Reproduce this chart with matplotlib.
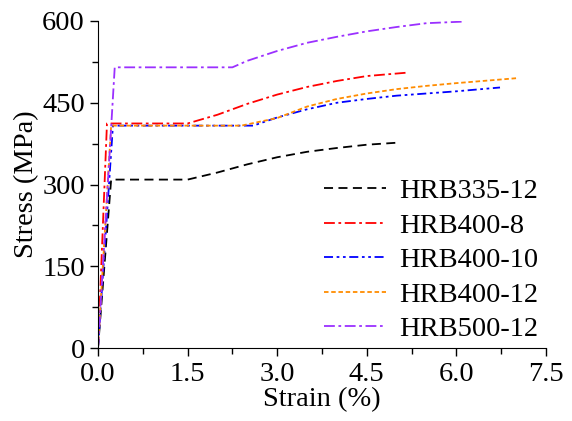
import matplotlib.pyplot as plt
import numpy as np

plt.rcParams["font.family"] = ["Liberation Serif", "DejaVu Serif"]
plt.rcParams["mathtext.fontset"] = "stix"

labels = ["HRB335-12", "HRB400-8", "HRB400-10", "HRB400-12", "HRB500-12"]
colors = ["black", "red", "blue", "darkorange", "#9b30ff"]

strain_335_12 = [0.0, 0.22, 1.5, 2.0, 2.5, 3.0, 3.5, 4.0, 4.5, 5.05]
stress_335_12 = [0, 309, 309, 322, 337, 350, 360, 367, 373, 377]

strain_400_8 = [0.0, 0.15, 1.5, 2.0, 2.5, 3.0, 3.5, 4.0, 4.5, 5.15]
stress_400_8 = [0, 412, 412, 428, 448, 465, 479, 490, 499, 505]

strain_400_10 = [0.0, 0.25, 2.6, 3.0, 3.5, 4.0, 4.5, 5.0, 5.5, 6.0, 6.73]
stress_400_10 = [0, 408, 408, 423, 438, 450, 457, 463, 467, 471, 478]

strain_400_12 = [0.0, 0.22, 2.4, 3.0, 3.5, 4.0, 4.5, 5.0, 5.5, 6.0, 7.0]
stress_400_12 = [0, 408, 408, 422, 443, 457, 467, 475, 481, 486, 495]

strain_500_12 = [0.0, 0.28, 2.25, 2.5, 3.0, 3.5, 4.0, 4.5, 5.0, 5.5, 6.14]
stress_500_12 = [0, 515, 515, 527, 545, 560, 571, 581, 589, 596, 599]

strains = [strain_335_12, strain_400_8, strain_400_10, strain_400_12, strain_500_12]
stresses = [stress_335_12, stress_400_8, stress_400_10, stress_400_12, stress_500_12]
styles = [
    (0, (5, 3)),
    (0, (6, 2, 1.5, 2)),
    (0, (5, 2, 1.5, 2, 1.5, 2)),
    (0, (2.5, 1.5)),
    (0, (6, 2, 1.5, 2)),
]

fig = plt.figure(figsize=(5.72, 4.21), dpi=100)
ax = fig.add_axes([98 / 572, 1 - 348 / 421, 448 / 572, 327 / 421])

for x, y, c, ls, lab in zip(strains, stresses, colors, styles, labels):
    ax.plot(x, y, color=c, linestyle=ls, linewidth=1.3, label=lab)

ax.set_xlim(0, 7.5)
ax.set_ylim(0, 600)
ax.set_xticks(np.arange(0, 7.6, 1.5))
ax.set_xticks(np.arange(0.75, 7.5, 1.5), minor=True)
ax.set_yticks(np.arange(0, 601, 150))
ax.set_yticks(np.arange(75, 600, 150), minor=True)
ax.xaxis.set_major_formatter(plt.FuncFormatter(lambda v, p: f"{v:.1f}"))
ax.spines["top"].set_visible(False)
ax.spines["right"].set_visible(False)
ax.tick_params(which="major", direction="out", length=6, width=1, labelsize=20.5)
ax.tick_params(which="minor", direction="out", length=4, width=1)
ax.tick_params(axis="x", pad=4)
ax.set_xlabel("Strain (%)", fontsize=20.5, labelpad=0)
ax.set_ylabel("Stress (MPa)", fontsize=20.5, labelpad=2)

ax.legend(
    loc="lower right",
    bbox_to_anchor=(1.04, -0.06),
    frameon=False,
    fontsize=20.5,
    handlelength=2.2,
    handletextpad=0.45,
    labelspacing=0.3,
)

fig.savefig("out.png", dpi=100)
